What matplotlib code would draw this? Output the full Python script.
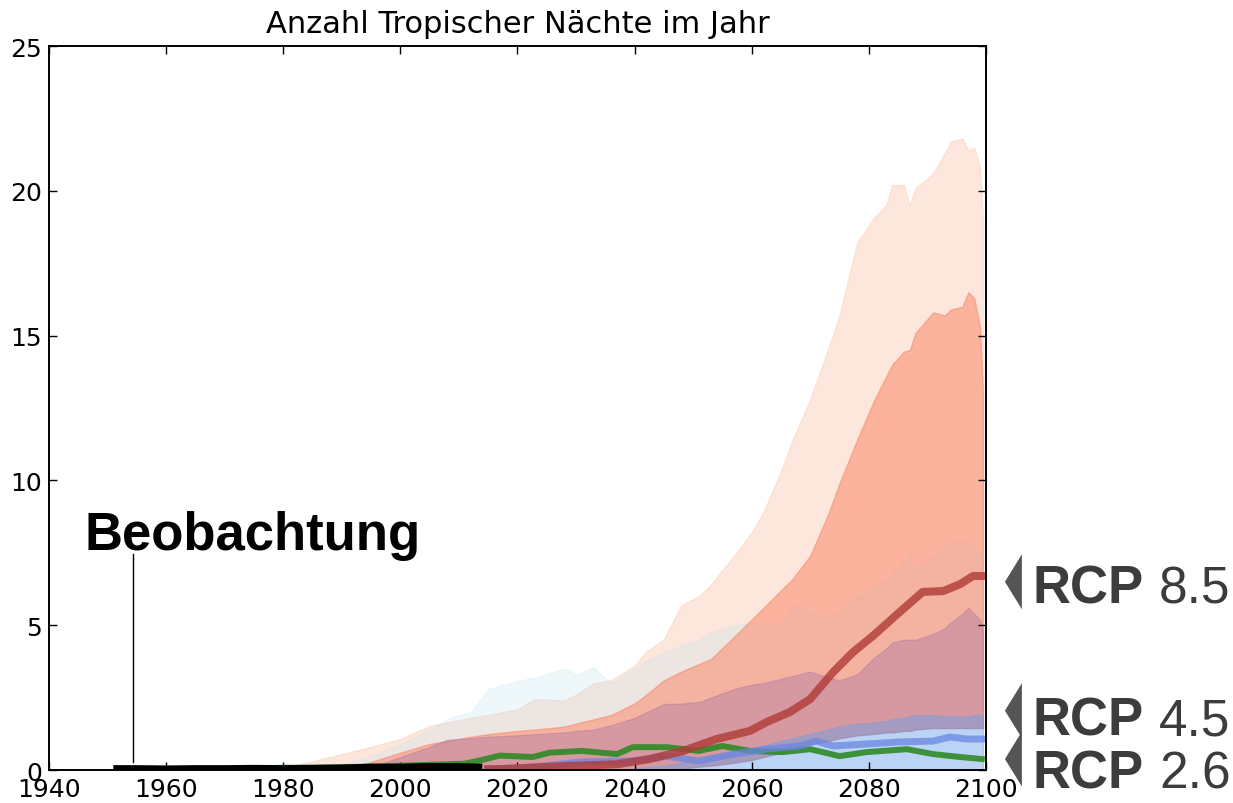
import matplotlib
matplotlib.use("Agg")
import matplotlib.pyplot as plt
import matplotlib.transforms as mtransforms
from matplotlib.patches import Polygon

# common year grid for the projection bands
years = [1975, 1980, 1985, 1990, 1995, 2000, 2005, 2008, 2012, 2015, 2020, 2023,
         2028, 2030, 2033, 2036, 2040, 2042, 2045, 2048, 2051, 2053, 2057, 2060,
         2062, 2065, 2067, 2070, 2073, 2075, 2078, 2081, 2083, 2084, 2086, 2087,
         2088, 2091, 2093, 2094, 2096, 2097, 2098, 2099, 2099.5]

# lower edge shared by the red / rose / cyan bands
band_low = [0, 0, 0, 0, 0, 0, 0, 0, 0, 0, 0, 0,
            0, 0, 0, 0, 0, 0, 0, 0.05, 0.12, 0.15, 0.25, 0.35,
            0.45, 0.6, 0.75, 0.9, 1.0, 1.1, 1.2, 1.25, 1.3, 1.3, 1.35, 1.35,
            1.4, 1.45, 1.45, 1.45, 1.45, 1.45, 1.45, 1.45, 1.45]

rcp85_outer = [0, 0.1, 0.3, 0.55, 0.8, 1.07, 1.52, 1.65, 1.8, 1.9, 2.1, 2.45,
               2.4, 2.6, 3.0, 3.1, 3.6, 4.1, 4.5, 5.7, 6.0, 6.4, 7.4, 8.2,
               8.9, 10.3, 11.4, 12.8, 14.5, 15.7, 18.2, 19.1, 19.5, 20.2, 20.2, 19.5,
               20.1, 20.6, 21.3, 21.7, 21.8, 21.4, 21.5, 20.8, 19.0]

cyan_outer = [0, 0, 0.05, 0.2, 0.5, 0.9, 1.4, 1.76, 2.0, 2.8, 3.07, 3.2,
              3.5, 3.3, 3.55, 3.0, 3.5, 3.8, 4.06, 4.3, 4.5, 4.75, 5.0, 5.1,
              5.05, 5.0, 5.7, 5.5, 5.2, 5.5, 6.0, 6.3, 6.6, 6.8, 7.2, 7.5,
              7.0, 7.4, 7.7, 7.9, 7.9, 7.8, 7.7, 7.6, 7.0]

rcp85_inner = [0, 0, 0, 0, 0.28, 0.6, 0.9, 1.0, 1.15, 1.24, 1.35, 1.4,
               1.5, 1.6, 1.75, 1.9, 2.3, 2.6, 3.1, 3.4, 3.66, 3.83, 4.6, 5.2,
               5.6, 6.2, 6.6, 7.4, 8.8, 9.9, 11.4, 12.8, 13.6, 14.0, 14.45, 14.5,
               15.1, 15.8, 15.7, 15.9, 16.0, 16.5, 16.3, 15.3, 13.0]

rose_band = [0, 0, 0, 0, 0.1, 0.45, 0.8, 1.05, 1.1, 1.15, 1.2, 1.24,
             1.3, 1.35, 1.4, 1.55, 1.8, 2.0, 2.28, 2.3, 2.35, 2.5, 2.8, 2.95,
             3.0, 3.15, 3.25, 3.4, 3.2, 3.1, 3.3, 3.9, 4.2, 4.4, 4.5, 4.5,
             4.5, 4.7, 4.9, 5.1, 5.4, 5.6, 5.4, 5.2, 4.8]

blue_band = [0, 0, 0, 0, 0, 0, 0, 0, 0, 0, 0, 0,
             0, 0, 0, 0, 0.05, 0.1, 0.15, 0.25, 0.35, 0.45, 0.6, 0.75,
             0.85, 1.0, 1.1, 1.25, 1.4, 1.5, 1.6, 1.65, 1.7, 1.75, 1.8, 1.85,
             1.9, 1.9, 1.85, 1.85, 1.85, 1.85, 1.9, 1.9, 1.85]

# median lines
red_years = [2015, 2017, 2022, 2028.5, 2033, 2037, 2042.6, 2048.3, 2054, 2059.7, 2062.6,
             2066.5, 2070, 2073.9, 2077.3, 2080.7, 2085.3, 2089.2, 2092.7, 2095.6, 2097.8, 2099.3]
red_med = [0.03, 0.03, 0.08, 0.14, 0.17, 0.2, 0.38, 0.66, 1.07, 1.35, 1.66,
           2.0, 2.45, 3.38, 4.07, 4.63, 5.46, 6.15, 6.18, 6.42, 6.7, 6.7]

green_years = [1975, 1980, 1985, 1990, 1995, 2000, 2005, 2011, 2014, 2017, 2022.6, 2025.5,
               2031, 2037, 2039.7, 2045.5, 2051, 2055, 2059.7, 2065.4, 2070, 2075, 2079.7,
               2086.5, 2091, 2095.6, 2099.3]
green_med = [0.05, 0.08, 0.08, 0.1, 0.12, 0.15, 0.18, 0.22, 0.35, 0.5, 0.45, 0.6,
             0.66, 0.55, 0.79, 0.79, 0.66, 0.83, 0.66, 0.62, 0.72, 0.48, 0.62,
             0.72, 0.55, 0.45, 0.38]

blue_years = [2015, 2022.6, 2031, 2039.7, 2045.5, 2051, 2056.8, 2062.6, 2068.2, 2071, 2073.9,
              2079.7, 2085.3, 2091, 2093.9, 2096.8, 2099.3]
blue_med = [0.02, 0.1, 0.28, 0.31, 0.48, 0.31, 0.55, 0.72, 0.83, 1.0, 0.83,
            0.9, 0.97, 1.0, 1.14, 1.07, 1.07]

obs_years = [1951, 1955, 1960, 1965, 1970, 1975, 1980, 1985, 1990, 1995, 2000, 2005, 2010, 2014]
obs_vals = [0.03, 0.03, 0.02, 0.03, 0.03, 0.04, 0.03, 0.04, 0.05, 0.08, 0.08, 0.1, 0.1, 0.08]

rcp_labels = ["8.5", "4.5", "2.6"]
rcp_marks = [6.5, 2.05, 0.38]      # where the arrow heads point
rcp_base = [5.8, 1.24, -0.59]      # text baselines

fig = plt.figure(figsize=(12.33, 8.04), dpi=100)
ax = fig.add_axes([0.0397, 0.041, 0.7599, 0.9005])

ax.fill_between(years, band_low, rcp85_outer, color='#fdd0bc', alpha=0.5, lw=1)
ax.fill_between(years, band_low, cyan_outer, color='#bfe3ee', alpha=0.25, lw=0.8)
ax.fill_between(years, band_low, rcp85_inner, color='#fb8060', alpha=0.5, lw=1)
ax.fill_between(years, band_low, rose_band, color='#a06aa4', alpha=0.35, lw=0.8)
ax.fill_between(years, 0, blue_band, color='#6aa0ea', alpha=0.45, lw=0.8)

ax.plot(green_years, green_med, color='#2f8a25', lw=4.3, alpha=0.9)
ax.plot(blue_years, blue_med, color='#6a86e0', lw=5, alpha=0.75)
ax.plot(red_years, red_med, color='#b03a36', lw=5.8, alpha=0.8)
ax.plot(obs_years, obs_vals, color='black', lw=5.8, solid_capstyle='butt')

ax.set_xlim(1940, 2100)
ax.set_ylim(0, 25)
ax.set_xticks(range(1940, 2101, 20))
ax.set_yticks(range(0, 26, 5))
ax.tick_params(direction='in', length=6, width=1, top=True, right=True,
               labelsize=18, pad=5)
for s in ax.spines.values():
    s.set_linewidth(1.4)
ax.set_title('Anzahl Tropischer Nächte im Jahr', fontsize=22, pad=10)

# observation label
ax.text(1946.1, 7.63, 'Beobachtung', fontsize=38, fontweight='bold',
        family='Liberation Sans', va='baseline', ha='left')
ax.plot([1954.3, 1954.3], [0.28, 7.46], color='black', lw=1)

# RCP labels right of the axes
trans = mtransforms.blended_transform_factory(ax.transAxes, ax.transData)
for lab, ym, yb in zip(rcp_labels, rcp_marks, rcp_base):
    tri = Polygon([[1.0203, ym], [1.0384, ym + 0.95], [1.0384, ym - 0.95]],
                  closed=True, transform=trans, clip_on=False,
                  facecolor='#555555', edgecolor='none')
    ax.add_patch(tri)
    ax.text(1.050, yb, 'RCP', transform=trans, fontsize=38, fontweight='bold',
            family='Liberation Sans', color='#3c3c3c', va='baseline', clip_on=False)
    ax.text(1.185, yb, lab, transform=trans, fontsize=37,
            family='Liberation Sans', color='#3c3c3c', va='baseline', clip_on=False)

fig.savefig('out.png', dpi=100)
